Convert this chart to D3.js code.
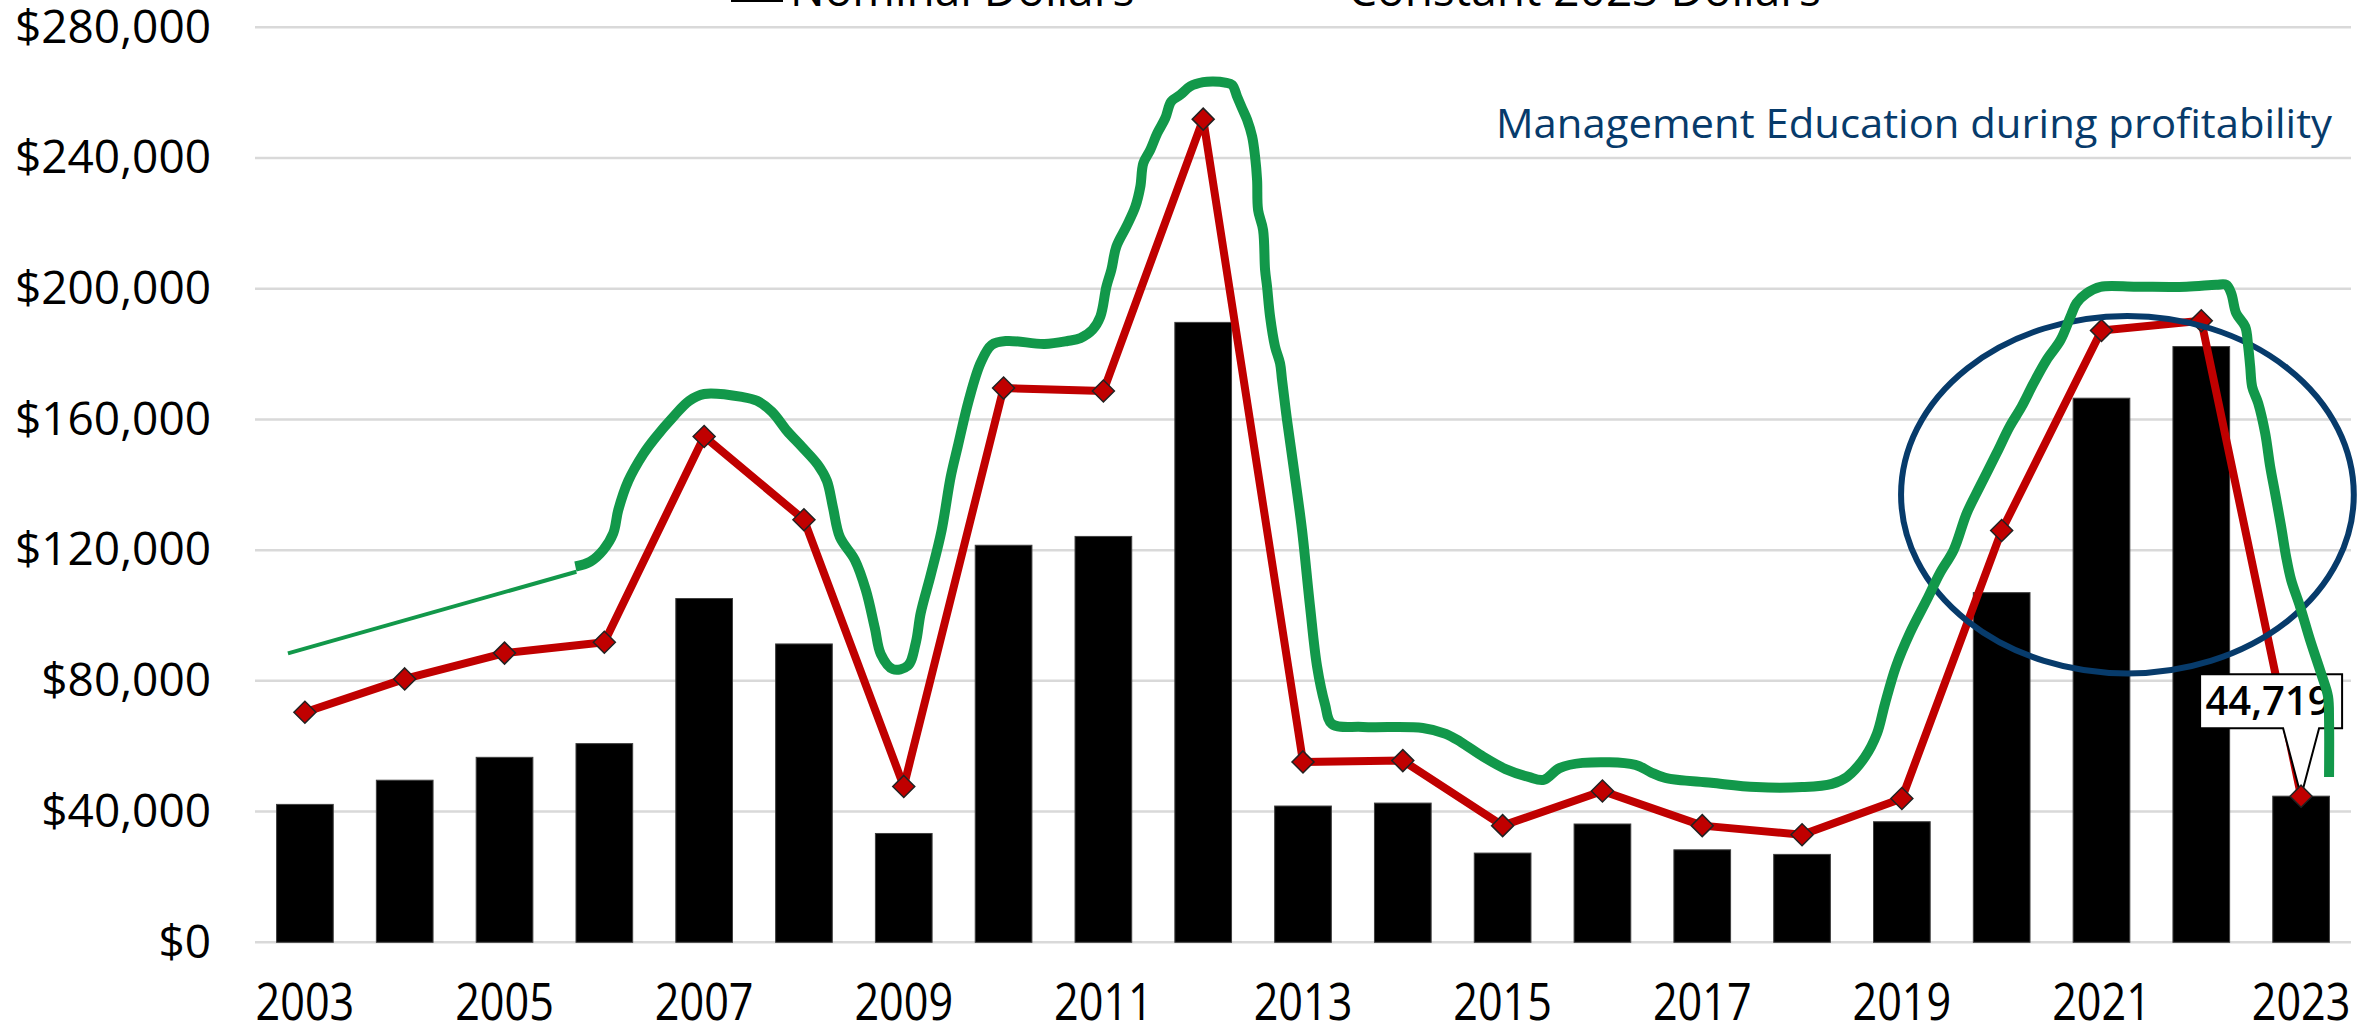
<!DOCTYPE html>
<html>
<head>
<meta charset="utf-8">
<script src="https://cdn.jsdelivr.net/npm/d3@7"></script>
<style>
  html, body { margin: 0; padding: 0; background: #fff; overflow: hidden; }
  svg { display: block; font-family: "Open Sans", sans-serif; }
</style>
</head>
<body>
<div id="chart"></div>
<script>
// categories and series
var years = [2003, 2004, 2005, 2006, 2007, 2008, 2009, 2010, 2011, 2012, 2013,
             2014, 2015, 2016, 2017, 2018, 2019, 2020, 2021, 2022, 2023]
var nominal = [42200, 49600, 56600, 60800, 105200, 91300, 33300, 121500, 124200, 189700, 41700,
               42600, 27300, 36200, 28300, 26900, 36900, 107000, 166500, 182300, 44719]
var constant2023 = [70400, 80600, 88500, 91800, 154800, 129300, 47700, 169600, 168700, 251900, 55200,
                    55600, 35700, 46300, 35700, 32900, 44000, 126000, 187200, 190200, 44719]

var yTicks = [0, 40000, 80000, 120000, 160000, 200000, 240000, 280000]
var xLabelYears = [2003, 2005, 2007, 2009, 2011, 2013, 2015, 2017, 2019, 2021, 2023]
var legendLabels = ["Nominal Dollars", "Constant 2023 Dollars"]

// hand drawn green marker (year position, dollar value)
var greenThinYears = [2002.83, 2005.72]
var greenThinValues = [88400, 113400]
var greenYears = [2005.71, 2005.86, 2005.99, 2006.09, 2006.14, 2006.24, 2006.39, 2006.50, 2006.70, 2006.85,
  2007.00, 2007.38, 2007.53, 2007.68, 2007.83, 2007.98, 2008.14, 2008.23, 2008.29, 2008.36,
  2008.51, 2008.62, 2008.71, 2008.77, 2008.89, 2009.04, 2009.12, 2009.17, 2009.27, 2009.38,
  2009.47, 2009.54, 2009.65, 2009.77, 2009.88, 2010.03, 2010.41, 2010.64, 2010.77, 2010.89,
  2010.97, 2011.03, 2011.08, 2011.13, 2011.23, 2011.32, 2011.37, 2011.40, 2011.47, 2011.54,
  2011.62, 2011.68, 2011.77, 2011.87, 2012.00, 2012.10, 2012.22, 2012.29, 2012.34, 2012.39,
  2012.44, 2012.49, 2012.52, 2012.54, 2012.55, 2012.60, 2012.62, 2012.64, 2012.67, 2012.72,
  2012.77, 2012.79, 2012.84, 2012.91, 2012.99, 2013.07, 2013.14, 2013.22, 2013.29, 2013.60,
  2014.20, 2014.43, 2014.58, 2014.81, 2015.03, 2015.26, 2015.41, 2015.57, 2015.80, 2016.33,
  2016.48, 2016.63, 2017.09, 2017.54, 2018.00, 2018.30, 2018.45, 2018.63, 2018.75, 2018.83,
  2018.94, 2019.08, 2019.25, 2019.38, 2019.52, 2019.65, 2019.78, 2019.95, 2020.08, 2020.20,
  2020.32, 2020.45, 2020.59, 2020.69, 2020.75, 2020.85, 2020.99, 2021.35, 2021.85, 2022.15,
  2022.25, 2022.30, 2022.35, 2022.44, 2022.47, 2022.49, 2022.51, 2022.57, 2022.64, 2022.69,
  2022.74, 2022.80, 2022.85, 2022.90, 2022.99, 2023.09, 2023.20, 2023.27, 2023.28, 2023.28]
var greenValues = [115000, 116500, 120100, 125200, 132300, 141200, 149400, 154000, 161100, 165700,
  167800, 166900, 165700, 162300, 156500, 151600, 146100, 141200, 133200, 124000,
  117000, 107800, 96200, 88200, 83600, 84600, 91600, 100800, 112400, 126200,
  142400, 151600, 165700, 177300, 182800, 184000, 183100, 184000, 184900, 187400,
  191500, 200600, 205800, 212900, 219000, 225100, 231200, 238400, 242500, 247600,
  252200, 257300, 259300, 261900, 263200, 263400, 263100, 262400, 258800, 255200,
  251700, 246600, 240400, 233300, 224100, 218000, 205800, 200600, 191500, 182300,
  177200, 172100, 159800, 144500, 126200, 102900, 84600, 72900, 66800, 65900,
  65600, 63800, 61300, 56700, 53000, 50600, 49700, 53300, 54900, 54300,
  52100, 50300, 48800, 47500, 47500, 48500, 50600, 56700, 63800, 72900,
  84300, 94600, 104800, 112900, 120100, 131300, 139400, 149700, 157800, 163900,
  171100, 178200, 184300, 191500, 195600, 198600, 200600, 200600, 200600, 201200,
  201200, 198600, 192500, 188400, 182300, 176200, 170000, 165000, 155800, 145600,
  137400, 127200, 118000, 110900, 102700, 92500, 82300, 75200, 68000, 50600]

// annotations, in data units
var noteText = "Management Education during profitability"
var ring = {year: 2021.26, value: 136980, rYears: 2.268, rValue: 54690}
var calloutValue = 44719

var W = 2374, H = 1027
var svg = d3.select('#chart').append('svg')
    .attr('width', W)
    .attr('height', H)

var x = d3.scaleBand()
    .domain(years)
    .range([255, 2351])
    .paddingInner(0.432)
    .paddingOuter(0.216)
var y = d3.scaleLinear().domain([0, 280000]).range([942.3, 27.3])
var cx = function(yr) {return x(yr) + x.bandwidth() / 2}
var xc = d3.scaleLinear().domain([2003, 2023]).range([cx(2003), cx(2023)])

var red = '#c00000', green = '#12984a', navy = '#073b6b'

// gridlines
svg.append('g')
  .selectAll('line')
  .data(yTicks)
  .enter().append('line')
    .attr('x1', 255)
    .attr('x2', 2351)
    .attr('y1', function(d) {return y(d)})
    .attr('y2', function(d) {return y(d)})
    .attr('stroke', '#d9d9d9')
    .attr('stroke-width', 2.5)

// y axis
var yAxis = svg.append('g')
    .attr('transform', 'translate(256,0)')
    .call(d3.axisLeft(y).tickValues(yTicks).tickSize(0).tickPadding(45)
      .tickFormat(function(d) {return '$' + d3.format(',')(d)}))
yAxis.select('.domain').remove()
yAxis.selectAll('text')
    .attr('font-size', 46)
    .attr('font-family', '"Open Sans", sans-serif')
    .attr('fill', '#000')

// x axis
var xAxis = svg.append('g')
    .attr('transform', 'translate(0,' + y(0) + ')')
    .call(d3.axisBottom(x).tickValues(xLabelYears).tickSize(0).tickPadding(41))
xAxis.select('.domain').remove()
xAxis.selectAll('text')
    .attr('font-size', 52)
    .attr('font-family', '"Open Sans", sans-serif')
    .attr('fill', '#000')
    .attr('transform', 'scale(0.83,1)')

// bars
svg.append('g')
  .selectAll('rect')
  .data(years)
  .enter().append('rect')
    .attr('x', function(d) {return x(d)})
    .attr('width', x.bandwidth())
    .attr('y', function(d, i) {return y(nominal[i])})
    .attr('height', function(d, i) {return y(0) - y(nominal[i])})
    .attr('fill', '#000')
    .attr('stroke', '#404040')
    .attr('stroke-width', 1)

// constant dollars line
var line = d3.line()
    .x(function(d) {return cx(d[0])})
    .y(function(d) {return y(d[1])})
var redPts = years.map(function(d, i) {return [d, constant2023[i]]})
svg.append('path')
    .attr('d', line(redPts))
    .attr('fill', 'none')
    .attr('stroke', red)
    .attr('stroke-width', 8)
    .attr('stroke-linejoin', 'round')

// callout for last value
var px = cx(2023), py = y(calloutValue)
var box = svg.append('g')
box.append('path')
    .attr('d', 'M' + (px - 101) + ',' + (py - 122) + 'H' + (px + 41) + 'V' + (py - 68) +
      'H' + (px + 18) + 'L' + px + ',' + py + 'L' + (px - 18) + ',' + (py - 68) +
      'H' + (px - 101) + 'Z')
    .attr('fill', '#fff')
    .attr('stroke', '#000')
    .attr('stroke-width', 2)
box.append('text')
    .attr('x', px - 33)
    .attr('y', py - 81)
    .attr('text-anchor', 'middle')
    .attr('font-size', 40)
    .attr('font-weight', 600)
    .attr('fill', '#000')
    .text(d3.format(',')(calloutValue))

// diamond markers
svg.append('g')
  .selectAll('path')
  .data(redPts)
  .enter().append('path')
    .attr('d', function(d) {
      var a = cx(d[0]), b = y(d[1]), r = 11
      return 'M' + a + ',' + (b - r) + 'L' + (a + r) + ',' + b + 'L' + a + ',' + (b + r) + 'L' + (a - r) + ',' + b + 'Z'
    })
    .attr('fill', red)
    .attr('stroke', '#222')
    .attr('stroke-width', 1.5)

// ellipse
svg.append('ellipse')
    .attr('cx', xc(ring.year))
    .attr('cy', y(ring.value))
    .attr('rx', xc(2003 + ring.rYears) - xc(2003))
    .attr('ry', y(0) - y(ring.rValue))
    .attr('fill', 'none')
    .attr('stroke', navy)
    .attr('stroke-width', 6)

// green freehand marker
var gline = d3.line()
    .curve(d3.curveCatmullRom.alpha(0.5))
    .x(function(d) {return xc(d[0])})
    .y(function(d) {return y(d[1])})
svg.append('path')
    .attr('d', gline(greenThinYears.map(function(d, i) {return [d, greenThinValues[i]]})))
    .attr('fill', 'none')
    .attr('stroke', green)
    .attr('stroke-width', 4)
    .attr('stroke-linecap', 'butt')
svg.append('path')
    .attr('d', gline(greenYears.map(function(d, i) {return [d, greenValues[i]]})))
    .attr('fill', 'none')
    .attr('stroke', green)
    .attr('stroke-width', 10)
    .attr('stroke-linejoin', 'round')
    .attr('stroke-linecap', 'butt')

// note text
svg.append('text')
    .attr('x', 1496)
    .attr('y', 137.7)
    .attr('font-size', 41)
    .attr('fill', navy)
    .attr('textLength', 836)
    .attr('lengthAdjust', 'spacingAndGlyphs')
    .text(noteText)

// legend (mostly cut off at the top edge)
var legend = svg.append('g')
legend.append('rect')
    .attr('x', 731).attr('y', -20)
    .attr('width', 52).attr('height', 22)
    .attr('fill', '#000')
legend.append('text')
    .attr('x', 790).attr('y', 6)
    .attr('font-size', 46)
    .attr('fill', '#000')
    .text(legendLabels[0])
legend.append('line')
    .attr('x1', 1250).attr('x2', 1330)
    .attr('y1', -14).attr('y2', -14)
    .attr('stroke', red).attr('stroke-width', 8)
legend.append('text')
    .attr('x', 1348).attr('y', 6)
    .attr('font-size', 46)
    .attr('fill', '#000')
    .text(legendLabels[1])
</script>
</body>
</html>
